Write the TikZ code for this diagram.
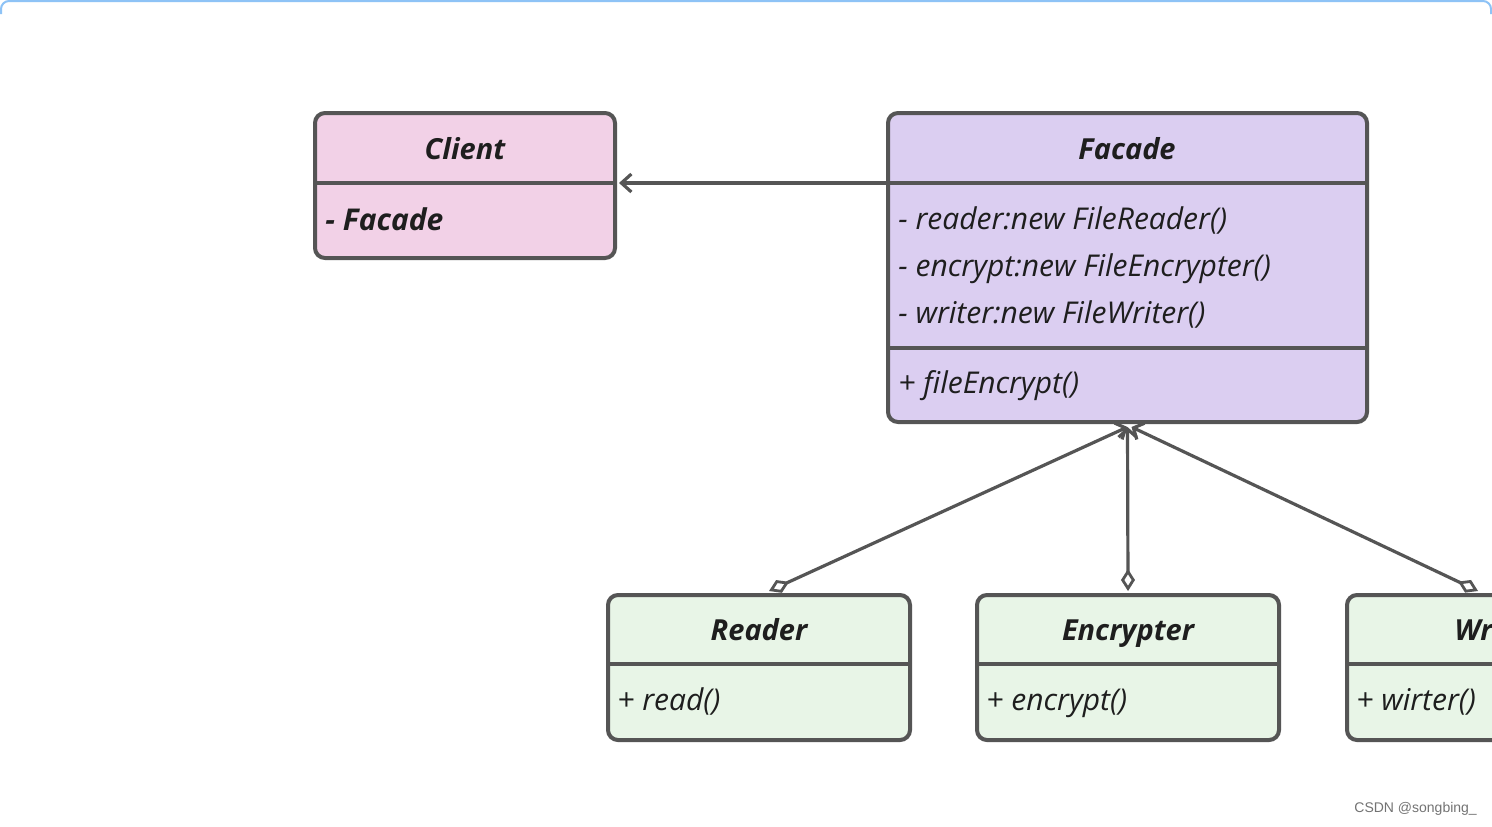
\documentclass[tikz,border=0pt]{standalone}
\usepackage{fontspec}
\setmainfont{Open Sans}
\newfontfamily\wmfont{Liberation Sans}
\usetikzlibrary{arrows.meta}
\definecolor{ink}{HTML}{555555}
\definecolor{pinkc}{HTML}{F2D1E7}
\definecolor{lavc}{HTML}{DBCEF1}
\definecolor{greenc}{HTML}{E8F5E7}
\definecolor{frameblue}{HTML}{8EC3F6}
\definecolor{txt}{HTML}{1E1E1E}
\tikzset{
  box/.style={draw=ink, line width=2pt, rounded corners=5pt, inner sep=0pt},
  divider/.style={draw=ink, line width=2pt},
  title/.style={anchor=base, inner sep=0pt, text=txt, font=\fontsize{14.5}{17}\selectfont\bfseries\itshape},
  member/.style={anchor=base west, text=txt, inner sep=0pt, font=\fontsize{15}{18}\selectfont\itshape},
  bmember/.style={anchor=base west, text=txt, inner sep=0pt, font=\fontsize{15}{18}\selectfont\bfseries\itshape},
  assoc/.style={draw=ink, line width=1.6pt, -{Straight Barb[length=5pt,width=9pt,line width=1.6pt]}},
  aggr/.style={draw=ink, line width=1.6pt, {Straight Barb[length=4pt,width=9pt,line width=1.6pt]}-{Diamond[open,fill=white,length=11pt,width=7pt,line width=1.4pt]}}
}
\begin{document}
\begin{tikzpicture}[x=0.5pt,y=-0.5pt]
\useasboundingbox (0,0) rectangle (1492,826);
\clip (0,0) rectangle (1492,826);
\fill[white] (0,0) rectangle (1492,826);
\draw[frameblue, line width=1pt, rounded corners=4pt] (1,14) -- (1,1) -- (1491,1) -- (1491,14);

% boxes
\node[box, fill=pinkc, minimum width=150pt, minimum height=72.5pt] (client) at (465,185.5) {};
\node[box, fill=lavc, minimum width=239.5pt, minimum height=154.5pt] (facade) at (1127.5,267.5) {};
\node[box, fill=greenc, minimum width=151pt, minimum height=72.5pt] (reader) at (759,667.5) {};
\node[box, fill=greenc, minimum width=151pt, minimum height=72.5pt] (encrypter) at (1128,667.5) {};
\node[box, fill=greenc, minimum width=151pt, minimum height=72.5pt] (writer) at (1498,667.5) {};

% dividers
\draw[divider] ([yshift=-36pt]client.north west) -- ([yshift=-36pt]client.north east);
\draw[divider] ([yshift=-36pt]facade.north west) -- ([yshift=-36pt]facade.north east);
\draw[divider] ([yshift=-118.5pt]facade.north west) -- ([yshift=-118.5pt]facade.north east);
\draw[divider] ([yshift=-35.5pt]reader.north west) -- ([yshift=-35.5pt]reader.north east);
\draw[divider] ([yshift=-35.5pt]encrypter.north west) -- ([yshift=-35.5pt]encrypter.north east);
\draw[divider] ([yshift=-35.5pt]writer.north west) -- ([yshift=-35.5pt]writer.north east);

% texts
\node[title] (ct) at (465,159) {Client};
\node[bmember] (cf) at (325,230) {- Facade};
\node[title] (ft) at (1127,159) {Facade};
\node[member] (f1) at (898,229) {- reader:new FileReader()};
\node[member] (f2) at (898,276) {- encrypt:new FileEncrypter()};
\node[member] (f3) at (898,323) {- writer:new FileWriter()};
\node[member] (f4) at (898,393) {+ fileEncrypt()};
\node[title] (rt) at (759,640) {Reader};
\node[member] (r1) at (617,710) {+ read()};
\node[title] (et) at (1128,640) {Encrypter};
\node[member] (e1) at (986,710) {+ encrypt()};
\node[title] (wt) at (1498,640) {Writer};
\node[member] (w1) at (1356,710) {+ wirter()};

% connectors
\draw[assoc] ([yshift=-36pt]facade.north west) -- ([yshift=-36pt,xshift=1pt]client.north east);
\draw[aggr] ([yshift=-1.5pt]facade.south) -- ([xshift=5pt,yshift=1pt]reader.north);
\draw[aggr] ([yshift=-1.5pt]facade.south) -- ([yshift=1pt]encrypter.north);
\draw[aggr] ([yshift=-1.5pt,xshift=2pt]facade.south) -- ([xshift=-10pt,yshift=1pt]writer.north);

% watermark
\node[anchor=west, inner sep=0pt, text=black!55, font=\wmfont\fontsize{7}{8}\selectfont] (wm) at (1354,809) {CSDN @songbing\_};
\end{tikzpicture}
\end{document}
